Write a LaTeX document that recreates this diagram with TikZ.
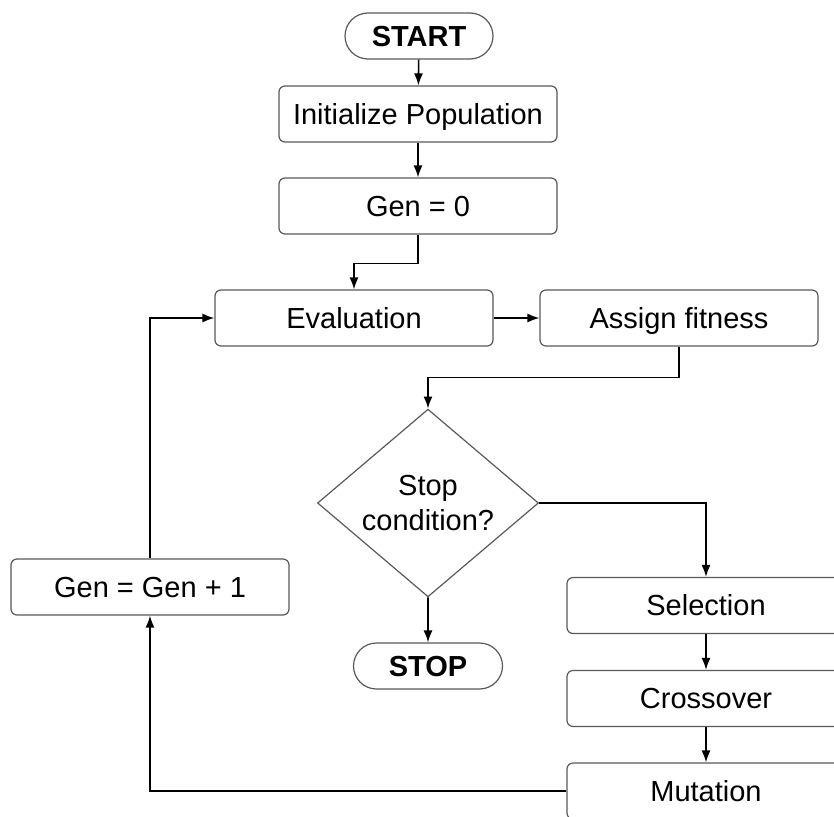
\documentclass[tikz,border=0pt]{standalone}
\usepackage{fontspec}
\setmainfont{Liberation Sans}
\usetikzlibrary{shapes.geometric,shapes.misc,arrows.meta}
\begin{document}
\begin{tikzpicture}[x=1pt,y=-1pt,
  box/.style={draw=black!65, line width=1.2pt, rounded corners=6pt, minimum width=278pt, minimum height=56pt, inner sep=0pt, text height=24pt, text depth=4pt, font=\fontsize{29}{34}\selectfont},
  term/.style={draw=black!65, line width=1.2pt, rounded rectangle, minimum height=46pt, inner sep=0pt, text height=24pt, text depth=4pt, font=\fontsize{29}{34}\selectfont\bfseries},
  dec/.style={draw=black!65, line width=1.2pt, diamond, minimum width=221pt, minimum height=185pt, inner sep=0pt, align=center, font=\fontsize{29}{35}\selectfont},
  arr/.style={line width=1.6pt, draw=black, -{Latex[length=12pt,width=9pt]}},
  ln/.style={line width=1.6pt, draw=black}]
\useasboundingbox (0,0) rectangle (834,816);
\clip (0,0) rectangle (834,816);

\node[term, minimum width=148pt] (start) at (419,36) {START};
\node[box] (init) at (418,114) {Initialize Population};
\node[box] (gen0) at (418,206) {Gen = 0};
\node[box] (eval) at (354,318) {Evaluation};
\node[box] (fit) at (679,318) {Assign fitness};
\node[dec] (dec) at (428,503) {Stop\\condition?};
\node[term, minimum width=149pt] (stop) at (428,666) {STOP};
\node[box] (sel) at (706,605.5) {Selection};
\node[box] (cross) at (706,698.5) {Crossover};
\node[box] (mut) at (706,791) {Mutation};
\node[box] (inc) at (150,587) {Gen = Gen + 1};

\draw[arr] (start) -- (init);
\draw[arr] (init) -- (gen0);
\draw[arr] (gen0.south) -- ++(0,29) -| (eval.north);
\draw[arr] (eval) -- (fit);
\draw[arr] (fit.south) -- ++(0,31) -| (dec.north);
\draw[arr] (dec.east) -| (sel.north);
\draw[arr] (dec.south) -- (stop);
\draw[arr] (sel) -- (cross);
\draw[arr] (cross) -- (mut);
\draw[arr] (mut.west) -| (inc.south);
\draw[arr] (inc.north) |- (eval.west);
\end{tikzpicture}
\end{document}
